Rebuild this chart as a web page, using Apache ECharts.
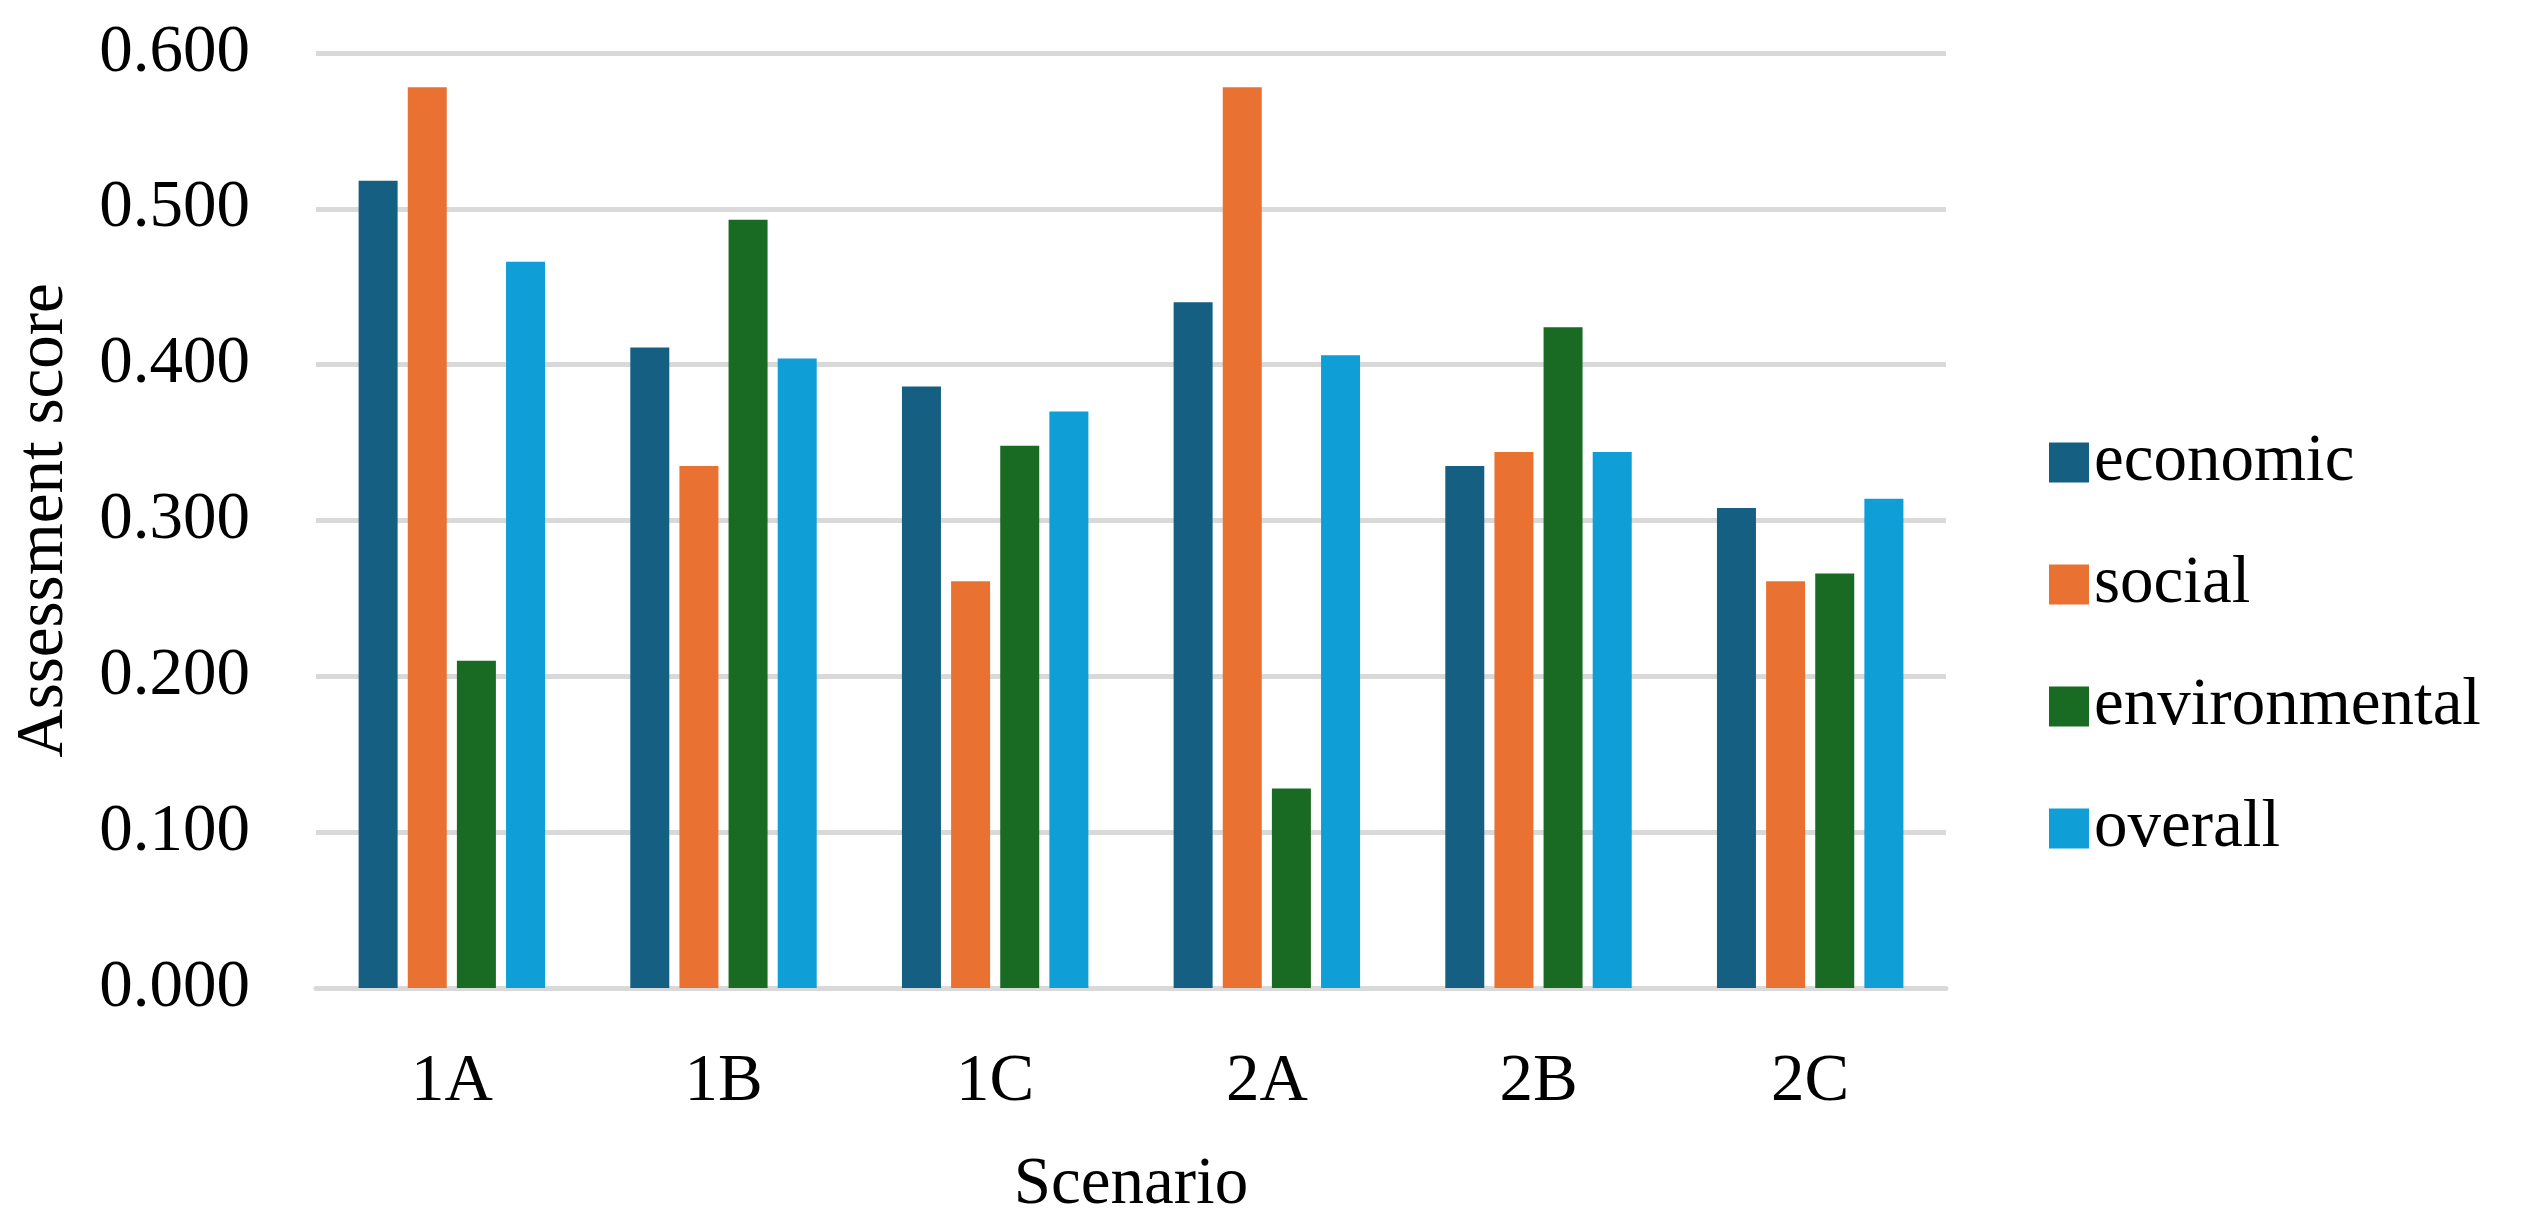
<!DOCTYPE html>
<html>
<head>
<meta charset="utf-8">
<script src="https://cdn.jsdelivr.net/npm/echarts@6/dist/echarts.min.js"></script>
<style>
html,body{margin:0;padding:0;background:#fff;}
#chart{width:2535px;height:1230px;}
</style>
</head>
<body>
<div id="chart"></div>
<script>
const categories = ['1A', '1B', '1C', '2A', '2B', '2C'];
const economic = [0.518, 0.411, 0.386, 0.440, 0.335, 0.308];
const social = [0.578, 0.335, 0.261, 0.578, 0.344, 0.261];
const environmental = [0.210, 0.493, 0.348, 0.128, 0.424, 0.266];
const overall = [0.466, 0.404, 0.370, 0.406, 0.344, 0.314];
const seriesNames = ['economic', 'social', 'environmental', 'overall'];
const yTicks = [0, 0.1, 0.2, 0.3, 0.4, 0.5, 0.6];

const FONT = 'Liberation Serif';
const FS = 67;
const TXT = '#000';
const colors = ['#156082', '#E97132', '#196B24', '#0F9ED5'];
const values = [economic, social, environmental, overall];

const chart = echarts.init(document.getElementById('chart'));
chart.setOption({
  animation: false,
  color: colors,
  textStyle: { fontFamily: FONT, color: TXT },
  grid: { left: 316, right: 589, top: 53, bottom: 242, containLabel: false },
  legend: {
    orient: 'vertical',
    left: 2044,
    top: 424,
    itemWidth: 40,
    itemHeight: 40,
    itemGap: 55,
    itemTextGap: 16,
    icon: 'rect',
    textStyle: { fontFamily: FONT, fontSize: FS, color: TXT, lineHeight: 67 },
    data: seriesNames
  },
  xAxis: {
    type: 'category',
    data: categories,
    name: 'Scenario',
    nameLocation: 'middle',
    nameGap: 164,
    nameTextStyle: { fontFamily: FONT, fontSize: FS, color: TXT },
    axisLine: { show: true, lineStyle: { color: '#D9D9D9', width: 5 } },
    axisTick: { show: false },
    axisLabel: { margin: 61, fontFamily: FONT, fontSize: FS, color: TXT },
    splitLine: { show: false }
  },
  yAxis: {
    type: 'value',
    min: yTicks[0],
    max: yTicks[yTicks.length - 1],
    interval: 0.1,
    name: 'Assessment score',
    nameLocation: 'middle',
    nameGap: 238,
    nameTextStyle: { fontFamily: FONT, fontSize: FS, color: TXT },
    axisLine: { show: false },
    axisTick: { show: false },
    axisLabel: {
      margin: 66,
      fontFamily: FONT,
      fontSize: FS,
      color: TXT,
      formatter: v => v.toFixed(3)
    },
    splitLine: { show: true, lineStyle: { color: '#D9D9D9', width: 5 } }
  },
  series: seriesNames.map((n, i) => ({
    name: n,
    type: 'bar',
    data: values[i],
    barWidth: 39,
    barGap: '26%',
    itemStyle: { color: colors[i] }
  }))
});
</script>
</body>
</html>
